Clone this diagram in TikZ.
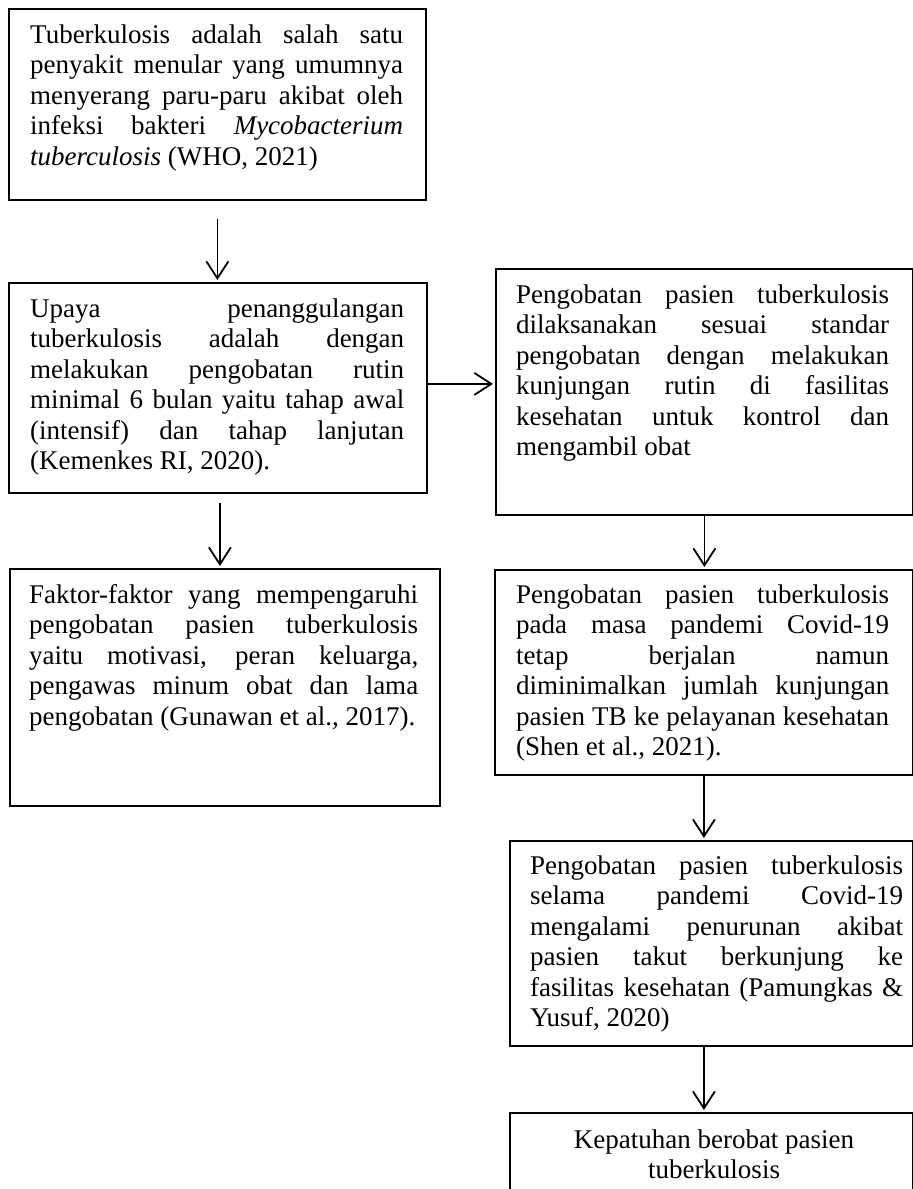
\documentclass[tikz,border=0pt]{standalone}
\usepackage{fontspec}
\setmainfont{Liberation Serif}
\usetikzlibrary{arrows.meta}
\tolerance=10000
\hbadness=10000
\hyphenpenalty=10000
\tikzset{
  box/.style={draw, line width=1.8pt, anchor=north west, inner sep=0pt},
  txt/.style={anchor=north west, inner sep=0pt, align=justify,
    font=\fontsize{27pt}{30.5pt}\selectfont},
  ctxt/.style={anchor=north, inner sep=0pt, align=center,
    font=\fontsize{27pt}{30.5pt}\selectfont},
  arr/.style={line width=1.8pt,
    -{Straight Barb[length=17pt,width=22pt,line width=1.8pt]}, shorten >=2pt}
}
\begin{document}
\begin{tikzpicture}[x=1pt,y=-1pt]
\useasboundingbox (0,0) rectangle (913,1189);
\fill[white] (0,0) rectangle (913,1189);
\clip (0,0) rectangle (913,1189);

% boxes
\node[box, minimum width=417pt, minimum height=191pt] (b1) at (8,8) {};
\node[box, minimum width=418pt, minimum height=210pt] (b2) at (8,282) {};
\node[box, minimum width=417pt, minimum height=246pt] (b3) at (495,268) {};
\node[box, minimum width=430pt, minimum height=237pt] (b4) at (9,568) {};
\node[box, minimum width=418pt, minimum height=205pt] (b5) at (494,569) {};
\node[box, minimum width=403pt, minimum height=205pt] (b6) at (509,840) {};
\node[box, minimum width=403pt, minimum height=120pt] (b7) at (509,1112) {};

% texts
\node[txt, text width=373pt] (t1) at (30,21.65) {\strut Tuberkulosis adalah salah satu\linebreak
penyakit menular yang umumnya\linebreak
menyerang paru-paru akibat oleh\linebreak
infeksi bakteri \textit{Mycobacterium}\linebreak
\textit{tuberculosis} (WHO, 2021)};

\node[txt, text width=374pt] (t2) at (30,295.65) {\strut Upaya penanggulangan\linebreak
tuberkulosis adalah dengan\linebreak
melakukan pengobatan rutin\linebreak
minimal 6 bulan yaitu tahap awal\linebreak
(intensif) dan tahap lanjutan\linebreak
(Kemenkes RI, 2020).};

\node[txt, text width=373pt] (t3) at (516,281.65) {\strut Pengobatan pasien tuberkulosis\linebreak
dilaksanakan sesuai standar\linebreak
pengobatan dengan melakukan\linebreak
kunjungan rutin di fasilitas\linebreak
kesehatan untuk kontrol dan\linebreak
mengambil obat};

\node[txt, text width=389pt] (t4) at (29,581.65) {\strut Faktor-faktor yang mempengaruhi\linebreak
pengobatan pasien tuberkulosis\linebreak
yaitu motivasi, peran keluarga,\linebreak
pengawas minum obat dan lama\linebreak
pengobatan (Gunawan et al., 2017).};

\node[txt, text width=373pt] (t5) at (516,581.65) {\strut Pengobatan pasien tuberkulosis\linebreak
pada masa pandemi Covid-19\linebreak
tetap berjalan namun\linebreak
diminimalkan jumlah kunjungan\linebreak
pasien TB ke pelayanan kesehatan\linebreak
(Shen et al., 2021).};

\node[txt, text width=373pt] (t6) at (530,852.65) {\strut Pengobatan pasien tuberkulosis\linebreak
selama pandemi Covid-19\linebreak
mengalami penurunan akibat\linebreak
pasien takut berkunjung ke\linebreak
fasilitas kesehatan (Pamungkas \&\linebreak
Yusuf, 2020)};

\node[ctxt] (t7) at (714,1126.65) {\strut Kepatuhan berobat pasien\\tuberkulosis};

% connectors
\draw[arr, shorten <=18pt] (b1.south) -- (b1.south |- b2.north);
\draw[arr] ([yshift=4pt]b2.east) -- ([yshift=4pt]b2.east -| b3.west);
\draw[arr, shorten <=9pt] ([xshift=2pt]b2.south) -- ([xshift=2pt]b2.south |- b4.north);
\draw[arr] (b3.south) -- (b3.south |- b5.north);
\draw[arr] (b5.south) -- (b5.south |- b6.north);
\draw[arr] (b6.south -| b5.south) -- (b7.north -| b5.south);
\end{tikzpicture}
\end{document}
